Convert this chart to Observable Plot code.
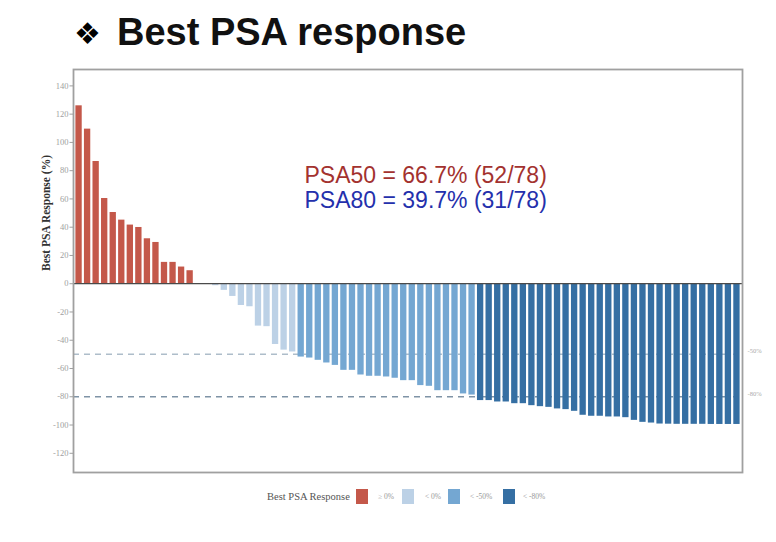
<!DOCTYPE html>
<html><head><meta charset="utf-8">
<script src="https://cdn.jsdelivr.net/npm/d3@7"></script>
<script src="https://cdn.jsdelivr.net/npm/@observablehq/plot@0.6"></script>
<style>
body{margin:0;background:#fff;width:776px;height:542px;overflow:hidden;font-family:"Liberation Sans",Arial,sans-serif}
#title{position:relative;width:776px;height:60px}
#title span{position:absolute;white-space:nowrap;line-height:38px}
#chart{width:776px;height:420px}
#legend{position:relative;width:776px;height:62px;font-family:"Liberation Serif",serif}
#legend .sw{position:absolute;top:9px;width:12px;height:15px}
#legend .lb{position:absolute;top:9px;line-height:15px;white-space:nowrap}
</style></head><body>
<div id="title"><span id="dia" style="left:74px;top:15px;font-family:'DejaVu Sans';font-size:30px">❖</span><span style="left:117px;top:13px;font-size:38px;font-weight:bold;color:#111">Best PSA response</span></div>
<div id="chart"></div>
<div id="legend"></div>
<script>
// Best PSA response (%) per patient, sorted, 78 patients
const responses = [
  125.9, 109.4, 86.5, 60.3, 50.4, 45.0, 41.5, 39.8, 31.8, 29.2, 15.1, 15.1, 11.8, 9.2,
  0, 0,
  -1.4, -4.7, -9.0, -15.4, -16.3, -30.0, -30.4, -43.0, -47.0, -48.3,
  -51.9, -52.6, -54.2, -56.1, -57.8, -61.3, -61.3, -64.6, -65.5, -65.5, -66.0,
  -66.9, -68.6, -68.6, -72.1, -72.6, -75.7, -75.7, -75.7, -78.0, -78.8,
  -82.7, -82.7, -83.7, -83.7, -84.9, -84.9, -86.3, -87.0, -87.5, -88.6, -89.1,
  -90.3, -93.1, -93.8, -93.8, -94.3, -94.3, -94.8, -96.7, -98.1, -98.6, -99.3,
  -99.4, -99.5, -99.5, -99.5, -99.5, -99.6, -99.6, -99.6, -99.6
];
const groupLabels = ["\u2265 0%", "< 0%", "< -50%", "< -80%"];
const groupColors = ["#c4584a", "#bcd1e6", "#74a7d2", "#356fa3"];
const yTicks = [-120, -100, -80, -60, -40, -20, 0, 20, 40, 60, 80, 100, 120, 140];
const refLines = [-50, -80];
const annotations = ["PSA50 = 66.7% (52/78)", "PSA80 = 39.7% (31/78)"];
const annotationColors = ["#a3322f", "#2430ac"];

function groupOf(v) {
  if (v >= 0) return groupLabels[0];
  if (v > -50) return groupLabels[1];
  if (v > -80) return groupLabels[2];
  return groupLabels[3];
}
const data = responses.map((v, i) => ({id: i, value: v, group: groupOf(v)}));

const chart = Plot.plot({
  width: 776, height: 420,
  marginTop: 9, marginBottom: 8, marginLeft: 73, marginRight: 34,
  style: {fontFamily: "'Liberation Serif', serif", background: "#fff"},
  x: {type: "band", domain: d3.range(responses.length), paddingInner: 0.26, paddingOuter: 0.28, axis: null},
  y: {domain: [-133.6, 151.6], axis: null},
  color: {domain: groupLabels, range: groupColors},
  marks: [
    Plot.ruleY([refLines[0]], {stroke: "#aebdca", strokeWidth: 1.5, strokeDasharray: "6,5"}),
    Plot.ruleY([refLines[1]], {stroke: "#7f93a6", strokeWidth: 1.5, strokeDasharray: "6,5"}),
    Plot.barY(data, {x: "id", y: "value", fill: "group"}),
    Plot.ruleY([0], {stroke: "#4a4a4a", strokeWidth: 1.3}),
    Plot.frame({stroke: "#a0a0a0", strokeWidth: 1.8}),
    Plot.axisY(yTicks, {tickSize: 3.5, tickPadding: 1.5, fontSize: 8.5, color: "#a0a0a0", tickFormat: d => String(d), label: null}),
    Plot.text(["Best PSA Response (%)"], {frameAnchor: "left", dx: -27, rotate: -90, fontWeight: "bold", fontSize: 11.5, fill: "#333"}),
    Plot.text(refLines, {y: d => d, text: d => d + "%", frameAnchor: "right", dx: 5, dy: -3, textAnchor: "start", fontSize: 6.5, fill: "#aaa"}),
    Plot.text([annotations[0]], {y: [76.8], frameAnchor: "left", dx: 231, textAnchor: "start", fontSize: 23, fill: annotationColors[0], fontFamily: "'Liberation Sans', Arial, sans-serif"}),
    Plot.text([annotations[1]], {y: [59.1], frameAnchor: "left", dx: 231, textAnchor: "start", fontSize: 23, fill: annotationColors[1], fontFamily: "'Liberation Sans', Arial, sans-serif"})
  ]
});
document.getElementById("chart").appendChild(chart);

// legend
const lg = document.getElementById("legend");
const ttl = document.createElement("div");
ttl.className = "lb"; ttl.textContent = "Best PSA Response";
ttl.style.left = "267px"; ttl.style.fontSize = "10.5px"; ttl.style.color = "#555";
lg.appendChild(ttl);
const swX = [356, 402, 448, 503];
const lbX = [378, 425, 470, 523];
groupLabels.forEach((g, i) => {
  const s = document.createElement("div");
  s.className = "sw"; s.style.left = swX[i] + "px"; s.style.background = groupColors[i];
  lg.appendChild(s);
  const t = document.createElement("div");
  t.className = "lb"; t.textContent = g; t.style.left = lbX[i] + "px";
  t.style.fontSize = "7.5px"; t.style.color = "#999";
  lg.appendChild(t);
});
</script>
</body></html>
